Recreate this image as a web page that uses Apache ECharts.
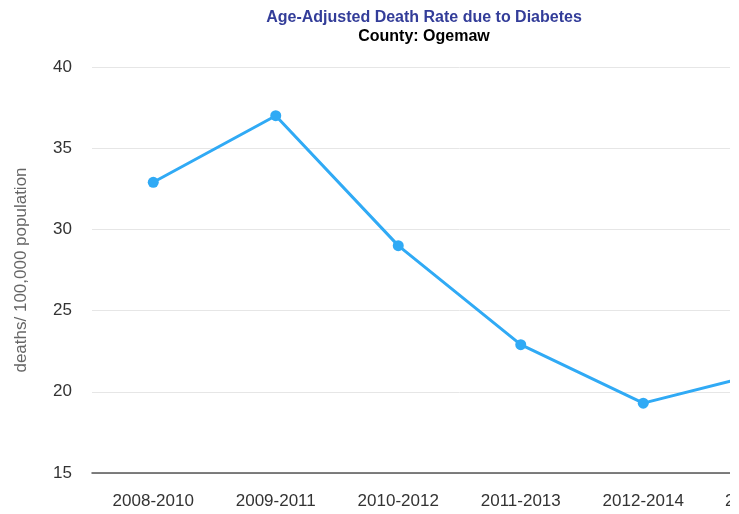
<!DOCTYPE html>
<html>
<head>
<meta charset="utf-8">
<script src="https://cdn.jsdelivr.net/npm/echarts@6/dist/echarts.min.js"></script>
<style>
  html, body { margin: 0; padding: 0; background: #fff; overflow: hidden; width: 739px; height: 514px; }
  /* the original is cut off at 730px, chart itself keeps going to the right */
  #wrap { width: 730px; height: 514px; overflow: hidden; }
  #chart { width: 950px; height: 514px; }
</style>
</head>
<body>
<div id="wrap"><div id="chart"></div></div>
<script>
// periods (last one is cut off by the right edge in the original)
var periods = ["2008-2010", "2009-2011", "2010-2012", "2011-2013", "2012-2014", "2013-2015"];
var rates = [32.9, 37.0, 29.0, 22.9, 19.3, 21.2];
var yTicks = { min: 15, max: 40, step: 5 };

var myChart = echarts.init(document.getElementById("chart"));
var option = {
  animation: false,
  title: {
    text: "Age-Adjusted Death Rate due to Diabetes",
    subtext: "County: Ogemaw",
    left: 419,
    top: 5,
    textAlign: "center",
    itemGap: 3,
    textStyle: {
      fontFamily: "Liberation Sans, Arial",
      fontSize: 16,
      fontWeight: "bold",
      color: "#333d99"
    },
    subtextStyle: {
      fontFamily: "Liberation Sans, Arial",
      fontSize: 16,
      fontWeight: "bold",
      color: "#000"
    }
  },
  grid: {
    left: 92,
    right: 123,
    top: 67,
    bottom: 41
  },
  xAxis: {
    type: "category",
    data: periods,
    boundaryGap: true,
    axisLine: { lineStyle: { color: "#555", width: 1.5 } },
    axisTick: { show: false },
    axisLabel: {
      color: "#333",
      fontSize: 17,
      fontFamily: "Liberation Sans, Arial",
      margin: 20,
      interval: 0
    }
  },
  yAxis: {
    type: "value",
    min: yTicks.min,
    max: yTicks.max,
    interval: yTicks.step,
    name: "deaths/ 100,000 population",
    nameLocation: "middle",
    nameGap: 62,
    nameTextStyle: {
      color: "#666",
      fontSize: 17,
      fontFamily: "Liberation Sans, Arial"
    },
    axisLine: { show: false },
    axisTick: { show: false },
    splitLine: { lineStyle: { color: "#e6e6e6", width: 1 } },
    axisLabel: {
      color: "#333",
      fontSize: 17,
      fontFamily: "Liberation Sans, Arial",
      margin: 20
    }
  },
  series: [
    {
      type: "line",
      data: rates,
      symbol: "circle",
      symbolSize: 11,
      lineStyle: { color: "#30aaf5", width: 3 },
      itemStyle: { color: "#30aaf5" }
    }
  ]
};
myChart.setOption(option);
</script>
</body>
</html>
